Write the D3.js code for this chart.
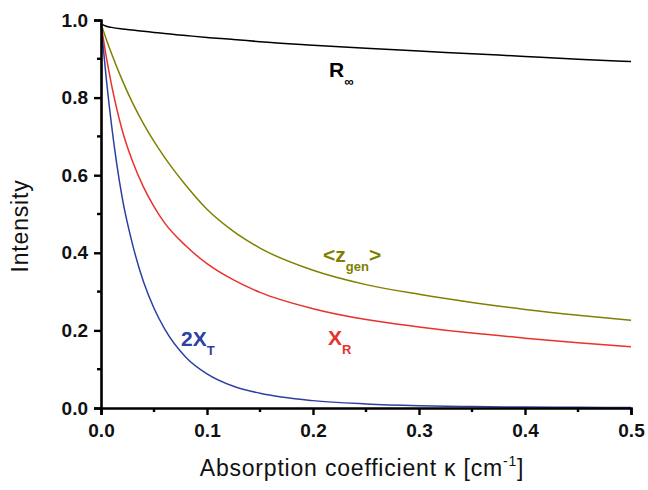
<!DOCTYPE html>
<html>
<head>
<meta charset="utf-8">
<script src="https://cdn.jsdelivr.net/npm/d3@7"></script>
<style>
  html, body { margin: 0; padding: 0; background: #fff; }
  svg { display: block; font-family: Arial, "Liberation Sans", Helvetica, sans-serif; }
</style>
</head>
<body>
<svg id="chart" width="648" height="490"></svg>
<script>
// Absorption coefficient (cm^-1) sample points
const kappa = [0, 0.005, 0.01, 0.02, 0.03, 0.04, 0.05, 0.06, 0.08, 0.1,
               0.125, 0.15, 0.2, 0.25, 0.3, 0.35, 0.4, 0.45, 0.5];

// Intensities for each quantity
const rInf = [0.99, 0.984, 0.981, 0.977, 0.974, 0.971, 0.968, 0.965, 0.96, 0.955,
              0.95, 0.944, 0.935, 0.927, 0.92, 0.913, 0.906, 0.899, 0.893];
const zGen = [0.99, 0.95, 0.913, 0.845, 0.785, 0.733, 0.687, 0.646, 0.574, 0.512,
              0.455, 0.412, 0.355, 0.318, 0.293, 0.272, 0.254, 0.239, 0.226];
const xR   = [0.99, 0.905, 0.832, 0.716, 0.634, 0.57, 0.519, 0.477, 0.418, 0.372,
              0.33, 0.298, 0.256, 0.228, 0.209, 0.193, 0.18, 0.168, 0.158];
const twoXT = [0.99, 0.848, 0.728, 0.542, 0.419, 0.326, 0.257, 0.204, 0.131, 0.088,
               0.056, 0.038, 0.019, 0.0105, 0.006, 0.0037, 0.0025, 0.0018, 0.0013];

const xTicks = [0, 0.1, 0.2, 0.3, 0.4, 0.5];
const yTicks = [0, 0.2, 0.4, 0.6, 0.8, 1.0];
const xMinor = [0.05, 0.15, 0.25, 0.35, 0.45];
const yMinor = [0.1, 0.3, 0.5, 0.7, 0.9];

const svg = d3.select("#chart");
const x = d3.scaleLinear().domain([0, 0.5]).range([101, 631]);
const y = d3.scaleLinear().domain([0, 1]).range([408, 20]);

const series = [
  { values: rInf,  color: "#000000" },
  { values: zGen,  color: "#808000" },
  { values: xR,    color: "#e8322a" },
  { values: twoXT, color: "#2d40a2" }
];

const line = d3.line()
  .x(d => x(d[0]))
  .y(d => y(d[1]))
  .curve(d3.curveMonotoneX);

// curves
svg.append("g").selectAll("path")
  .data(series)
  .join("path")
  .attr("fill", "none")
  .attr("stroke", d => d.color)
  .attr("stroke-width", 1.5)
  .attr("d", d => line(kappa.map((k, i) => [k, d.values[i]])));

// axes
const fmt = d3.format(".1f");
const xAxis = svg.append("g").attr("transform", "translate(0,408)")
  .call(d3.axisBottom(x).tickValues(xTicks).tickFormat(fmt).tickSize(7).tickPadding(9));
const yAxis = svg.append("g").attr("transform", "translate(101,0)")
  .call(d3.axisLeft(y).tickValues(yTicks).tickFormat(fmt).tickSize(7).tickPadding(6));

[xAxis, yAxis].forEach(g => {
  g.select(".domain").attr("stroke", "#000").attr("stroke-width", 2.6);
  g.selectAll(".tick line").attr("stroke", "#000").attr("stroke-width", 2.4);
  g.selectAll(".tick text")
    .attr("fill", "#111")
    .style("font-size", "19px")
    .style("font-weight", "bold")
    .style("font-family", "Arial, 'Liberation Sans', sans-serif");
});

// minor ticks
svg.append("g").selectAll("line.xm").data(xMinor).join("line")
  .attr("x1", d => x(d)).attr("x2", d => x(d))
  .attr("y1", 408).attr("y2", 412)
  .attr("stroke", "#000").attr("stroke-width", 2.4);
svg.append("g").selectAll("line.ym").data(yMinor).join("line")
  .attr("y1", d => y(d)).attr("y2", d => y(d))
  .attr("x1", 101).attr("x2", 97)
  .attr("stroke", "#000").attr("stroke-width", 2.4);

// axis titles
const xt = svg.append("text")
  .attr("x", 362).attr("y", 476)
  .attr("text-anchor", "middle")
  .style("font-size", "23px")
  .style("letter-spacing", "0.8px")
  .attr("fill", "#111");
xt.append("tspan").text("Absorption coefficient \u03ba [cm");
xt.append("tspan").attr("dy", -10).style("font-size", "14px").text("-1");
xt.append("tspan").attr("dy", 10).text("]");

svg.append("text")
  .attr("transform", "translate(28,226) rotate(-90)")
  .attr("text-anchor", "middle")
  .style("font-size", "23px")
  .style("letter-spacing", "0.8px")
  .attr("fill", "#111")
  .text("Intensity");

// curve labels
function label(xp, yp, main, sub, color, tail) {
  const t = svg.append("text").attr("x", xp).attr("y", yp)
    .attr("fill", color).style("font-weight", "bold").style("font-size", "21px");
  t.append("tspan").text(main);
  t.append("tspan").attr("dy", 9).style("font-size", "13px").text(sub);
  if (tail) t.append("tspan").attr("dy", -9).text(tail);
}
label(329, 77, "R", "\u221e", "#000000");
label(323, 262, "<z", "gen", "#808000", ">");
label(328, 345, "X", "R", "#e8322a");
label(181, 346, "2X", "T", "#2d40a2");
</script>
</body>
</html>
